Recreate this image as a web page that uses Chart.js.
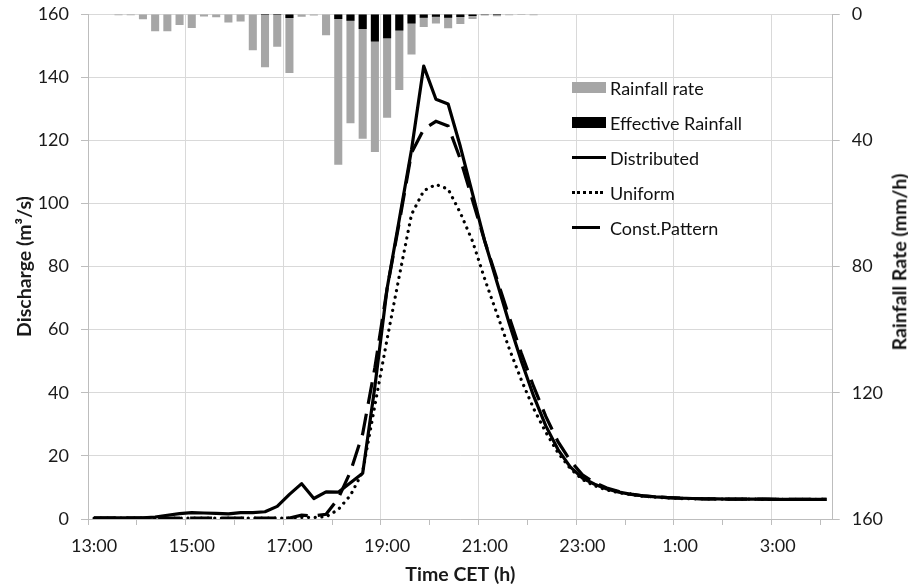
<!DOCTYPE html>
<html>
<head>
<meta charset="utf-8">
<script src="https://cdn.jsdelivr.net/npm/chart.js@4.4.1/dist/chart.umd.min.js"></script>
<style>
html,body{margin:0;padding:0;background:#fff;overflow:hidden;width:908px;height:588px;}
#wrap{position:relative;width:908px;height:588px;overflow:hidden;}
#c{position:absolute;left:0;top:0;}
.leg{position:absolute;left:572px;top:0;font-family:Lato,sans-serif;font-size:18px;color:#111;}
.row{position:absolute;left:0;height:22px;width:200px;}
.row span.t{position:absolute;left:38px;top:0;line-height:22px;white-space:nowrap;}
.sw{position:absolute;left:0;}
#rtitle{position:absolute;left:899.4px;top:262px;transform:translate(-50%,-50%) rotate(-90deg);white-space:nowrap;font-family:Lato,sans-serif;font-weight:bold;font-size:19.5px;line-height:23.4px;color:#111;}
</style>
</head>
<body>
<div id="wrap">
<canvas id="c" width="908" height="588"></canvas>
<div class="leg" id="legend"></div>
<div id="rtitle">Rainfall Rate (mm/h)</div>
</div>
<script>
const categories = ['13:00','13:15','13:30','13:45','14:00','14:15','14:30','14:45','15:00','15:15','15:30','15:45','16:00','16:15','16:30','16:45','17:00','17:15','17:30','17:45','18:00','18:15','18:30','18:45','19:00','19:15','19:30','19:45','20:00','20:15','20:30','20:45','21:00','21:15','21:30','21:45','22:00','22:15','22:30','22:45','23:00','23:15','23:30','23:45','0:00','0:15','0:30','0:45','1:00','1:15','1:30','1:45','2:00','2:15','2:30','2:45','3:00','3:15','3:30','3:45','4:00'];

const shownTickLabels = ['13:00','15:00','17:00','19:00','21:00','23:00','1:00','3:00'];

const rainfallRate = [0,0,0.4,0.4,1.7,5.5,5.5,3.5,4.4,0.8,
  1.0,2.7,2.4,11.5,16.9,10.4,18.7,0.9,0.5,6.7,
  47.8,34.6,39.5,43.7,32.9,24.1,12.8,4.1,3.0,4.5,
  3.2,1.6,0.5,0.7,0.4,0.3,0.4,0,0,0,
  0,0,0,0,0,0,0,0,0,0,
  0,0,0,0,0,0,0,0,0,0,
  0];

const effectiveRainfall = [0,0,0,0,0,0,0,0,0,0,
  0,0,0,0,0.3,0.3,1.3,0,0,0,
  1.6,2.1,4.75,8.7,7.7,5.2,3.0,1.2,0.85,1.2,
  0.95,0.6,0.2,0.3,0,0,0,0,0,0,
  0,0,0,0,0,0,0,0,0,0,
  0,0,0,0,0,0,0,0,0,0,
  0];

const distributed = [0.4,0.4,0.4,0.4,0.4,0.6,1.2,1.7,2.0,1.9,
  1.8,1.6,2.0,2.0,2.3,4.0,7.8,11.2,6.5,8.6,
  8.5,11.5,14.5,42,73,95,117,143.5,133,131.5,
  118,103,88,75,62,50,39,29.5,22,16.5,
  13,11,9.5,8.5,7.8,7.3,7.0,6.8,6.6,6.5,
  6.4,6.4,6.3,6.3,6.3,6.3,6.2,6.2,6.2,6.2,
  6.2];

const uniform = [0.3,0.3,0.3,0.3,0.3,0.3,0.3,0.3,0.3,0.3,
  0.3,0.3,0.3,0.3,0.3,0.3,0.3,0.5,0.5,0.7,
  3.0,7.5,15,36,57,77,96.5,104,106,104.5,
  97,88,76,65,54,44,35,27.5,21,16,
  12.5,10.5,9.2,8.3,7.7,7.2,6.9,6.7,6.5,6.4,
  6.4,6.3,6.3,6.3,6.3,6.2,6.2,6.2,6.2,6.2,
  6.2];

const constPattern = [0.3,0.3,0.3,0.3,0.3,0.3,0.3,0.3,0.3,0.3,
  0.3,0.3,0.3,0.3,0.3,0.3,0.3,1.2,1.0,1.5,
  6.5,15,27,48,73,94,116,123.5,126,124.5,
  114,101,88,76,64,52.5,42,32.5,24.5,18.5,
  14,11.5,9.8,8.7,7.9,7.3,7.0,6.8,6.6,6.5,
  6.4,6.4,6.3,6.3,6.3,6.3,6.2,6.2,6.2,6.2,
  6.2];

const GRID = '#d9d9d9';
const AXIS = '#bdbdbd';
const TXT = '#1a1a1a';
const tickFont = {family:'Lato', size:18};
const titleFont = {family:'Lato', size:19.5, weight:'bold'};

Chart.defaults.font.family = 'Lato';

function noVPad(s) { s.paddingTop = 0; s.paddingBottom = 0; }

new Chart(document.getElementById('c'), {
  type: 'bar',
  data: {
    labels: categories,
    datasets: [
      {type:'line', label:'Distributed', data:distributed, yAxisID:'y', borderColor:'#000', borderWidth:3.2, pointRadius:0, tension:0, borderJoinStyle:'round', order:0},
      {type:'line', label:'Uniform', data:uniform, yAxisID:'y', borderColor:'#000', borderWidth:3.2, borderDash:[0.1,6.6], borderCapStyle:'round', pointRadius:0, tension:0, order:0},
      {type:'line', label:'Const.Pattern', data:constPattern, yAxisID:'y', borderColor:'#000', borderWidth:3.2, borderDash:[22,10], pointRadius:0, tension:0, order:0},
      {type:'bar', label:'Effective Rainfall', data:effectiveRainfall, yAxisID:'y2', backgroundColor:'#000', grouped:false, barPercentage:0.66, categoryPercentage:1, order:1},
      {type:'bar', label:'Rainfall rate', data:rainfallRate, yAxisID:'y2', backgroundColor:'#a6a6a6', grouped:false, barPercentage:0.66, categoryPercentage:1, order:2}
    ]
  },
  options: {
    responsive:false,
    animation:false,
    devicePixelRatio:1,
    layout:{padding:{top:14, left:0, right:0, bottom:0}},
    plugins:{legend:{display:false}, tooltip:{enabled:false}},
    scales:{
      x:{
        type:'category',
        offset:true,
        grid:{
          offset:true,
          color:(c)=> (c.index % 8 === 0 ? GRID : 'rgba(0,0,0,0)'),
          tickColor:(c)=> (c.index % 4 === 0 ? AXIS : 'rgba(0,0,0,0)'),
          tickLength:6,
          lineWidth:1
        },
        border:{display:true, color:AXIS},
        ticks:{
          autoSkip:false, maxRotation:0, minRotation:0, padding:10,
          font:tickFont, color:TXT,
          callback:(v, i)=> (i % 8 === 0 ? shownTickLabels[i/8] : '')
        },
        title:{display:true, text:'Time CET (h)', font:titleFont, color:TXT, padding:{top:0, bottom:2}},
        afterFit:(s)=>{ s.height = 69; s.paddingLeft = 0; s.paddingRight = 0; }
      },
      y:{
        position:'left', min:0, max:160,
        grid:{color:GRID, tickColor:AXIS, tickLength:7},
        border:{display:true, color:AXIS},
        ticks:{stepSize:20, padding:12, font:tickFont, color:TXT},
        title:{display:true, text:'Discharge (m³/s)', font:titleFont, color:TXT, padding:{top:13.4, bottom:0}},
        afterFit:(s)=>{ s.width = 88; noVPad(s); }
      },
      y2:{
        position:'right', reverse:true, min:0, max:160,
        grid:{drawOnChartArea:false, tickColor:AXIS, tickLength:7},
        border:{display:true, color:AXIS},
        ticks:{stepSize:40, padding:12, font:tickFont, color:TXT},
        afterFit:(s)=>{ s.width = 75.3; noVPad(s); }
      }
    }
  }
});

// HTML legend
const legendItems = [
  {text:'Rainfall rate', kind:'rect', color:'#a6a6a6'},
  {text:'Effective Rainfall', kind:'rect', color:'#000'},
  {text:'Distributed', kind:'solid'},
  {text:'Uniform', kind:'dot'},
  {text:'Const.Pattern', kind:'dash'}
];
const legendCenters = [87.7, 122.6, 157.6, 192.8, 227.7];
const leg = document.getElementById('legend');
legendItems.forEach((it, k) => {
  const row = document.createElement('div');
  row.className = 'row';
  row.style.top = (legendCenters[k] - 11) + 'px';
  const sw = document.createElement('div');
  sw.className = 'sw';
  if (it.kind === 'rect') {
    sw.style.cssText += 'top:5.5px;width:34px;height:11px;background:' + it.color + ';';
  } else if (it.kind === 'solid') {
    sw.style.cssText += 'top:9.5px;width:34px;height:3px;background:#000;';
  } else if (it.kind === 'dot') {
    sw.style.cssText += 'top:9.5px;width:31px;height:0;border-top:3px dotted #000;';
  } else {
    sw.style.cssText += 'top:9.5px;width:28px;height:3px;background:#000;';
  }
  row.appendChild(sw);
  const t = document.createElement('span');
  t.className = 't';
  t.textContent = it.text;
  row.appendChild(t);
  leg.appendChild(row);
});
</script>
</body>
</html>
